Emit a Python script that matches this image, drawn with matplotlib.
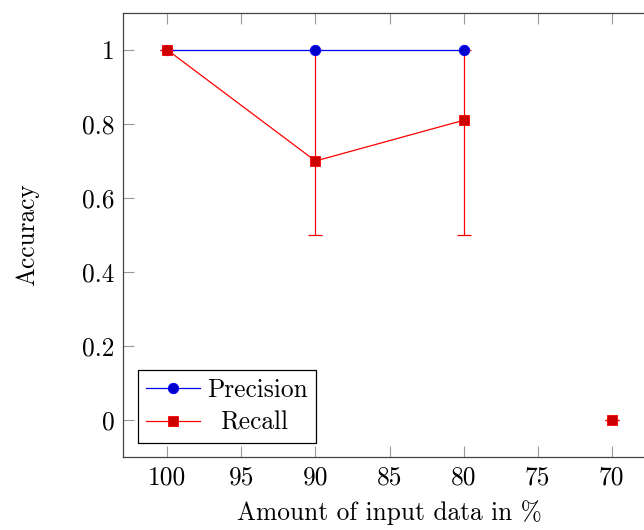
import numpy as np
import matplotlib
matplotlib.use("Agg")
import matplotlib.pyplot as plt
from matplotlib.transforms import Affine2D

plt.rcParams['font.family'] = 'cmr10'
plt.rcParams['mathtext.fontset'] = 'cm'
plt.rcParams['axes.formatter.use_mathtext'] = True

# amount of input data (%) and scores
prec_x = [100, 90, 80]
prec_y = [1.0, 1.0, 1.0]

recall_x = [100, 90, 80, 75, 70]
recall_y = [1.0, 0.70, 0.81, np.nan, 0.0]
recall_lo = [1.0, 0.5, 0.5, np.nan, 0.0]
recall_hi = [1.0, 1.0, 1.0, np.nan, 0.0]

xticks = [100, 95, 90, 85, 80, 75, 70]
yticks = [0, 0.2, 0.4, 0.6, 0.8, 1]
ytick_labels = ['0', '0.2', '0.4', '0.6', '0.8', '1']

blue_line, blue_fill = (0, 0, 1), (0, 0, 0.8)
red_line, red_fill = (1, 0, 0), (0.8, 0, 0)
fs = 18.3

fig = plt.figure(figsize=(6.44, 5.30), dpi=100)
ax = fig.add_axes([123 / 644, 73 / 530, 533 / 644, 444 / 530])

ry = np.array(recall_y)
yerr = [ry - np.array(recall_lo), np.array(recall_hi) - ry]
ax.errorbar(recall_x, recall_y, yerr=yerr, fmt='none', ecolor=red_line,
            elinewidth=0.9, capsize=5, capthick=0.9, zorder=2)

ax.plot(prec_x, prec_y, '-o', color=blue_line, lw=0.9, ms=7.5,
        mfc=blue_fill, mec=blue_line, mew=0.6, label='Precision', zorder=3)
ax.plot(recall_x, recall_y, '-s', color=red_line, lw=0.9, ms=7.5,
        mfc=red_fill, mec=red_line, mew=0.6, label='Recall', zorder=3)

ax.set_xlim(103, 67)
ax.set_ylim(-0.1, 1.1)
ax.set_xticks(xticks)
ax.set_xticklabels([str(t) for t in xticks])
ax.set_yticks(yticks)
ax.set_yticklabels(ytick_labels)

ax.tick_params(direction='in', length=8, width=0.8, color='#999999',
               labelsize=fs, top=True, right=True, pad=6)
for sp in ax.spines.values():
    sp.set_color('#444444')
    sp.set_linewidth(0.9)

ax.set_xlabel('Amount of input data in %', fontsize=fs)
ax.set_ylabel('Accuracy', fontsize=fs)
ax.xaxis.set_label_coords(0.5, -0.098)
ax.yaxis.set_label_coords(-0.158, 0.5)

leg = ax.legend(loc='lower left', bbox_to_anchor=(0.028, 0.0315),
                borderaxespad=0, fontsize=fs, fancybox=False,
                edgecolor='black', framealpha=1, handlelength=2.1,
                labelspacing=0.36, borderpad=0.33, handletextpad=0.3)
leg.get_frame().set_linewidth(0.9)
# center the shorter entry like pgfplots does
t = leg.get_texts()[1]
t.set_transform(t.get_transform() + Affine2D().translate(13, 0))

fig.savefig('out.png', dpi=100)
